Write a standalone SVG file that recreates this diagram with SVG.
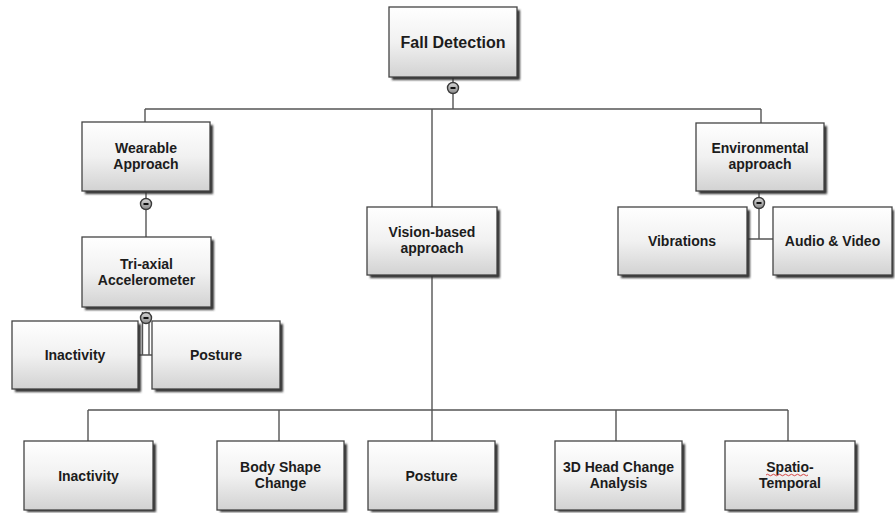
<svg xmlns="http://www.w3.org/2000/svg" width="895" height="513" viewBox="0 0 895 513">
<style>
.box{fill:url(#g);stroke:#444;stroke-width:1.3}
.sh{fill:#333;filter:url(#b)}
.t{font-family:"Liberation Sans",Arial,sans-serif;font-weight:bold;font-size:14px;fill:#1c1c1c;text-anchor:middle}
.big{font-size:16px}
.c{stroke:#555;stroke-width:1.4;fill:none}
.k{fill:url(#kg);stroke:#3a3a3a;stroke-width:1.4}
.m{stroke:#111;stroke-width:2}
</style>
<defs>
<linearGradient id="g" x1="0" y1="0" x2="0" y2="1">
<stop offset="0" stop-color="#ffffff"/>
<stop offset="0.5" stop-color="#f1f1f1"/>
<stop offset="1" stop-color="#d2d2d2"/>
</linearGradient>
<linearGradient id="kg" x1="0" y1="0" x2="0" y2="1">
<stop offset="0" stop-color="#d8d8d8"/>
<stop offset="1" stop-color="#8a8a8a"/>
</linearGradient>
<filter id="b" x="-10%" y="-10%" width="120%" height="130%"><feGaussianBlur stdDeviation="0.8"/></filter>
</defs>
<rect width="895" height="513" fill="#ffffff"/>

<g id="connectors">
<path class="c" d="M453,77 V109 M145,109 H761 M145,109 V122 M432,109 V207 M761,109 V123"/>
<path class="c" d="M146,191 V237"/>
<path class="c" d="M142.5,312 V355 M149,312 V355 M138,355 H152"/>
<path class="c" d="M759,191 V239 M747,239 H773"/>
<path class="c" d="M432,275 V410 M88,410 H788 M88,410 V441 M279,410 V441 M432,410 V441 M616,410 V441 M788,410 V441"/>
<g><circle class="k" cx="453" cy="88" r="5.5"/><line class="m" x1="450.5" y1="88" x2="455.5" y2="88"/></g>
<g><circle class="k" cx="146" cy="204" r="5.5"/><line class="m" x1="143.5" y1="204" x2="148.5" y2="204"/></g>
<g><circle class="k" cx="146" cy="318" r="5.5"/><line class="m" x1="143.5" y1="318" x2="148.5" y2="318"/></g>
<g><circle class="k" cx="759" cy="203" r="5.5"/><line class="m" x1="756.5" y1="203" x2="761.5" y2="203"/></g>
</g>

<g id="fall"><rect class="sh" x="392" y="10" width="128" height="70"/><rect class="box" x="389" y="7" width="128" height="70"/><text class="t big" x="453" y="48">Fall Detection</text></g>

<g id="wearable"><rect class="sh" x="85" y="125" width="128" height="69"/><rect class="box" x="82" y="122" width="128" height="69"/><text class="t" x="146" y="153">Wearable</text><text class="t" x="146" y="169">Approach</text></g>

<g id="triaxial"><rect class="sh" x="85" y="240" width="129" height="70"/><rect class="box" x="82" y="237" width="129" height="70"/><text class="t" x="146.5" y="269">Tri-axial</text><text class="t" x="146.5" y="285">Accelerometer</text></g>

<g id="inactivity1"><rect class="sh" x="15" y="324" width="126" height="68"/><rect class="box" x="12" y="321" width="126" height="68"/><text class="t" x="75" y="360">Inactivity</text></g>

<g id="posture1"><rect class="sh" x="155" y="324" width="128" height="68"/><rect class="box" x="152" y="321" width="128" height="68"/><text class="t" x="216" y="360">Posture</text></g>

<g id="vision"><rect class="sh" x="370" y="210" width="130" height="68"/><rect class="box" x="367" y="207" width="130" height="68"/><text class="t" x="432" y="237">Vision-based</text><text class="t" x="432" y="253">approach</text></g>

<g id="environmental"><rect class="sh" x="699" y="126" width="128" height="68"/><rect class="box" x="696" y="123" width="128" height="68"/><text class="t" x="760" y="153">Environmental</text><text class="t" x="760" y="169">approach</text></g>

<g id="vibrations"><rect class="sh" x="621" y="210" width="129" height="68"/><rect class="box" x="618" y="207" width="129" height="68"/><text class="t" x="682" y="246">Vibrations</text></g>

<g id="audiovideo"><rect class="sh" x="776" y="210" width="118" height="68"/><rect class="box" x="773" y="207" width="119" height="68"/><text class="t" x="832.5" y="246">Audio &amp; Video</text></g>

<g id="inactivity2"><rect class="sh" x="27" y="444" width="129" height="68"/><rect class="box" x="24" y="441" width="129" height="69"/><text class="t" x="88.5" y="481">Inactivity</text></g>

<g id="bodyshape"><rect class="sh" x="220" y="444" width="127" height="68"/><rect class="box" x="217" y="441" width="127" height="69"/><text class="t" x="280.5" y="472">Body Shape</text><text class="t" x="280.5" y="488">Change</text></g>

<g id="posture2"><rect class="sh" x="371" y="444" width="127" height="68"/><rect class="box" x="368" y="441" width="127" height="69"/><text class="t" x="431.5" y="481">Posture</text></g>

<g id="head"><rect class="sh" x="558" y="444" width="127" height="68"/><rect class="box" x="555" y="441" width="127" height="69"/><text class="t" x="618.5" y="472">3D Head Change</text><text class="t" x="618.5" y="488">Analysis</text></g>

<g id="spatio"><rect class="sh" x="728" y="444" width="130" height="68"/><rect class="box" x="725" y="441" width="130" height="69"/><text class="t" x="790" y="472">Spatio-</text><text class="t" x="790" y="488">Temporal</text>
<path d="M766,475 q1.5,-1.5 3,0 t3,0 t3,0 t3,0 t3,0 t3,0 t3,0 t3,0 t3,0 t3,0 t3,0 t3,0 t3,0 t3,0" fill="none" stroke="#d03030" stroke-width="0.9"/></g>
</svg>
